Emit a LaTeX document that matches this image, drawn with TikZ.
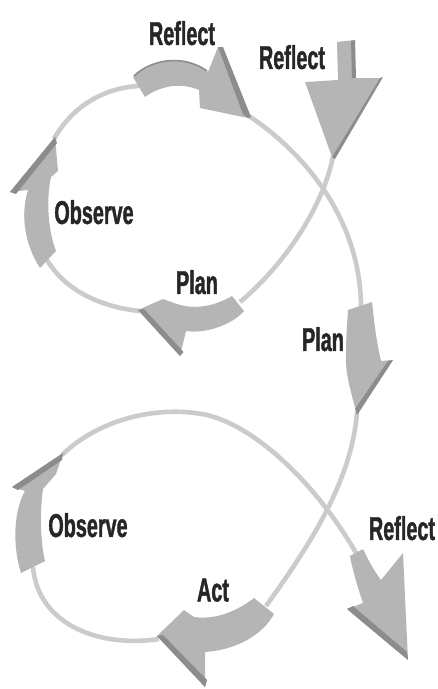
\documentclass[tikz,border=0pt]{standalone}
\usepackage{fontspec}
\newfontfamily\labfont[FakeStretch=0.6,FakeBold=1.2]{Liberation Sans}
\definecolor{linegray}{HTML}{CBCBCB}
\definecolor{arrowgray}{HTML}{B5B5B5}
\definecolor{bandgray}{HTML}{8C8C8C}
\definecolor{textdark}{HTML}{262626}
\tikzset{
  loopline/.style={draw=linegray, line width=4.6pt},
  afill/.style={fill=arrowgray},
  aband/.style={fill=bandgray},
  lab/.style={font=\labfont\bfseries\fontsize{33}{33}\selectfont, text=textdark, inner sep=0pt, text depth=0pt}
}
\begin{document}
\begin{tikzpicture}[x=1pt,y=-1pt]
\useasboundingbox (0,0) rectangle (437,689);
% line end coordinates
\coordinate (Atip) at (249,116);
\coordinate (Atail) at (139,86);
\coordinate (Btip) at (333,156);
\coordinate (Ctip) at (54,139);
\coordinate (Ctail) at (47,260);
\coordinate (Dtip) at (140,311);
\coordinate (Dtail) at (240,302);
\coordinate (Etail) at (361,306);
\coordinate (Etip) at (357,412);
\coordinate (Ftail) at (266,606);
\coordinate (Ftip) at (159,639);
\coordinate (Gtail) at (33,567);
\coordinate (Gtip) at (62,455);
\coordinate (Gmid) at (207,415);
\coordinate (Htail) at (356,553);
% ---------- loop lines ----------
\draw[loopline] (Atip) .. controls (300,150) and (360,215) .. (Etail);
\draw[loopline] (Btip) .. controls (325,200) and (290,260) .. (Dtail);
\draw[loopline] (Dtip) .. controls (100,307) and (65,290) .. (Ctail);
\draw[loopline] (Ctip) .. controls (70,110) and (100,88) .. (Atail);
\draw[loopline] (Etip) .. controls (352,480) and (310,545) .. (Ftail);
\draw[loopline] (Ftip) .. controls (100,648) and (38,625) .. (Gtail);
\draw[loopline] (Gtip) .. controls (100,418) and (160,405) .. (Gmid)
   .. controls (260,428) and (320,490) .. (Htail);
% ---------- arrow A (top Reflect) ----------
\fill[afill] (133,77) .. controls (148,62) and (180,52) .. (208,72) -- (218,47) -- (248,118) -- (200,108) -- (199,90) .. controls (180,82) and (160,86) .. (145,97) -- cycle;
\draw[bandgray, line width=1.6pt] (134,76) .. controls (148,62) and (180,52) .. (207,71);
\fill[aband] (218,47) -- (223,47) -- (251,117) -- (248,118) -- (243,114) -- cycle;
% ---------- arrow B (right Reflect) ----------
\fill[afill] (337,42) -- (355,40) -- (355,78) -- (380,78) -- (332,157) -- (305,82) -- (338,80) -- cycle;
\fill[aband] (380,78) -- (383,77) -- (335,159) -- (332,157) -- cycle;
\fill[aband] (351,41) -- (355,40) -- (356,78) -- (352,78) -- cycle;
% ---------- arrow C (upper Observe) ----------
\fill[afill] (40,268) .. controls (25,245) and (20,215) .. (28,190) -- (10,192) -- (55,137) -- (58,171) -- (51,177) .. controls (46,200) and (48,230) .. (56,251) -- cycle;
\fill[aband] (10,192) -- (55,137) -- (57,143) -- (16,194) -- cycle;
% ---------- arrow D (upper Plan) ----------
\fill[afill] (232,296) .. controls (215,306) and (195,310) .. (177,304) -- (163,299) -- (138,310) -- (180,356) -- (186,331) .. controls (205,334) and (232,325) .. (244,311) -- cycle;
\fill[aband] (138,310) -- (180,356) -- (183.5,352) -- (144,309) -- cycle;
% ---------- arrow E (right Plan) ----------
\fill[afill] (348,310) -- (372,302) .. controls (374,320) and (376,340) .. (381,361) -- (393,360) -- (357,415) .. controls (352,395) and (345,375) .. (346,355) .. controls (346,340) and (347,325) .. (348,310) -- cycle;
\fill[aband] (393,360) -- (357,415) -- (355,409) -- (388,361) -- cycle;
% ---------- arrow F (Act) ----------
\fill[afill] (254,598) .. controls (236,612) and (214,620) .. (194,617) -- (184,610) -- (157,636) -- (205,687) -- (205,652) .. controls (235,650) and (262,636) .. (274,614) -- cycle;
\fill[aband] (157,636) -- (205,687) -- (207,680) -- (163,635) -- cycle;
% ---------- arrow G (lower Observe) ----------
\fill[afill] (21,573) .. controls (12,545) and (14,510) .. (25,491) -- (12,487) -- (63,453) -- (56,474) -- (43,489) .. controls (40,510) and (40,540) .. (45,561) -- cycle;
\fill[aband] (12,487) -- (63,453) -- (62,460) -- (18,490) -- cycle;
% ---------- arrow H (lower Reflect) ----------
\fill[afill] (350,556) -- (363,549) .. controls (368,560) and (375,572) .. (381,580) -- (403,553) -- (408,660) -- (347,609) -- (363,603) .. controls (358,588) and (353,572) .. (350,556) -- cycle;
\fill[aband] (347,609) -- (408,660) -- (407,652) -- (353,606) -- cycle;
% ---------- labels ----------
\node[lab] (lRefA) at (182,33) {Reflect};
\node[lab] (lRefB) at (292,57) {Reflect};
\node[lab] (lObsC) at (94,212) {Observe};
\node[lab] (lPlanD) at (197,282) {Plan};
\node[lab] (lPlanE) at (323,339) {Plan};
\node[lab] (lObsG) at (88,525) {Observe};
\node[lab] (lAct) at (213,590) {Act};
\node[lab] (lRefH) at (402,528) {Reflect};
\end{tikzpicture}
\end{document}
